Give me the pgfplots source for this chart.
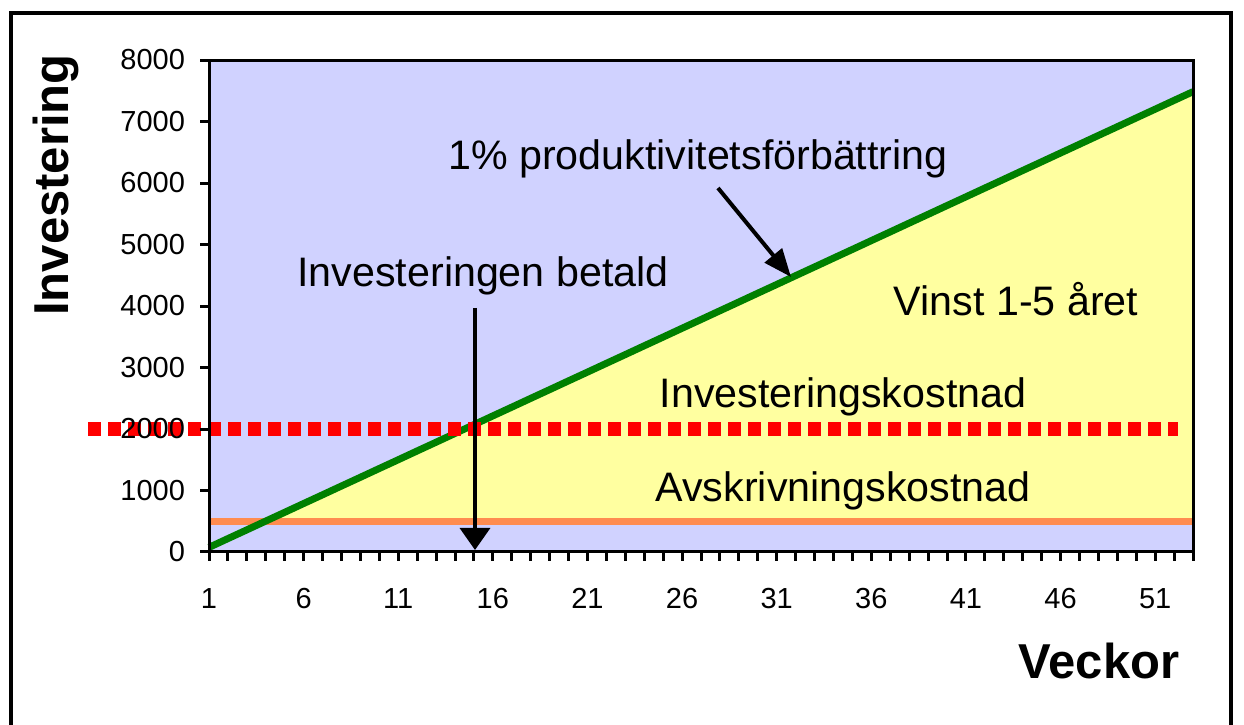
\documentclass[border=0pt]{standalone}
\usepackage{pgfplots}
\pgfplotsset{compat=1.18}
\usetikzlibrary{arrows.meta}
\usepackage{fontspec}
\setmainfont{Liberation Sans}
\definecolor{bgblue}{RGB}{208,210,255}
\definecolor{fillyel}{RGB}{255,255,160}
\definecolor{orng}{RGB}{255,140,80}
\definecolor{grn}{RGB}{0,128,0}
\newcommand\annfont{\fontsize{20.6pt}{24pt}\selectfont}
\newcommand\labfont{\bfseries\fontsize{24.5pt}{28pt}\selectfont}
\begin{document}
\begin{tikzpicture}
\path[use as bounding box] (0,0) rectangle (622pt,362pt);
\begin{axis}[
 scale only axis, width=492pt, height=246pt,
 at={(104.5pt,86pt)}, anchor=south west,
 xmin=1, xmax=53, ymin=0, ymax=8000,
 axis background/.style={fill=bgblue},
 axis line style={line width=1.5pt},
 axis on top,
 xtick={1,6,...,51}, minor xtick={1,...,53},
 ytick={0,1000,...,8000},
 tick align=outside, tick pos=left,
 major tick length=4.5pt, minor tick length=4.5pt,
 tick style={black, line width=1.5pt},
 /pgf/number format/assume math mode=true,
 /pgf/number format/set thousands separator={},
 ticklabel style={font=\fontsize{14.5pt}{16pt}\selectfont},
 xticklabel style={yshift=-10pt},
 yticklabel style={xshift=-4pt},
 clip=false,
]
\addplot[draw=none, fill=fillyel] coordinates {
(1,75) (2,218) (3,360) (4,503) (5,645) (6,788) (7,930) (8,1073) (9,1215) (10,1358)
(11,1500) (12,1643) (13,1785) (14,1928) (15,2070) (16,2213) (17,2355) (18,2498) (19,2640) (20,2783)
(21,2925) (22,3068) (23,3210) (24,3353) (25,3495) (26,3638) (27,3780) (28,3923) (29,4065) (30,4208)
(31,4350) (32,4493) (33,4635) (34,4778) (35,4920) (36,5063) (37,5205) (38,5348) (39,5490) (40,5633)
(41,5775) (42,5918) (43,6060) (44,6203) (45,6345) (46,6488) (47,6630) (48,6773) (49,6915) (50,7058)
(51,7200) (52,7343) (53,7485)} \closedcycle;
\addplot[draw=none, fill=bgblue] coordinates {(1,500) (53,500)} \closedcycle;
\addplot[orng, line width=3.5pt] coordinates {(1,500) (53,500)};
\addplot[grn, line width=3.5pt] coordinates {
(1,75) (2,218) (3,360) (4,503) (5,645) (6,788) (7,930) (8,1073) (9,1215) (10,1358)
(11,1500) (12,1643) (13,1785) (14,1928) (15,2070) (16,2213) (17,2355) (18,2498) (19,2640) (20,2783)
(21,2925) (22,3068) (23,3210) (24,3353) (25,3495) (26,3638) (27,3780) (28,3923) (29,4065) (30,4208)
(31,4350) (32,4493) (33,4635) (34,4778) (35,4920) (36,5063) (37,5205) (38,5348) (39,5490) (40,5633)
(41,5775) (42,5918) (43,6060) (44,6203) (45,6345) (46,6488) (47,6630) (48,6773) (49,6915) (50,7058)
(51,7200) (52,7343) (53,7485)};
\addplot[red, line width=6.5pt, dash pattern=on 6.5pt off 3.5pt] coordinates {(-5.39,2000) (52.2,2000)};
\end{axis}
\begin{scope}[x=0.5pt,y=-0.5pt,yshift=362pt]
\draw[line width=2pt] (10.5,12.7) rectangle (1231,740);
\node[anchor=base, inner sep=0pt] at (698,170) {\annfont 1\% produktivitetsförbättring};
\node[anchor=base, inner sep=0pt] at (483,287) {\annfont Investeringen betald};
\node[anchor=base, inner sep=0pt] at (1016,316) {\annfont Vinst 1-5 året};
\node[anchor=base, inner sep=0pt] at (843,408) {\annfont Investeringskostnad};
\node[anchor=base, inner sep=0pt] at (843,502) {\annfont Avskrivningskostnad};
\node[anchor=base, inner sep=0pt, rotate=90] at (68,185) {\labfont Investering};
\node[anchor=base, inner sep=0pt] at (1099,678) {\labfont Veckor};
\draw[line width=1.7pt, -{Triangle[width=15pt,length=11pt]}] (475,308) -- (475,550);
\draw[line width=2pt, -{Triangle[width=11pt,length=14pt]}] (718,188) -- (791,277);
\end{scope}
\end{tikzpicture}
\end{document}
